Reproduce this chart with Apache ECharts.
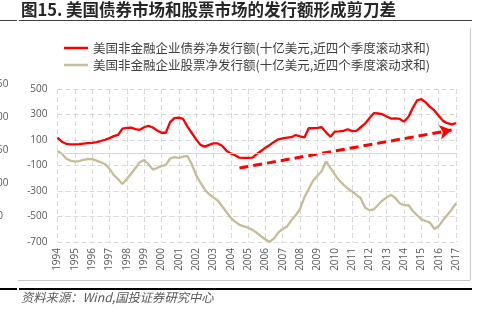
<!DOCTYPE html>
<html><head><meta charset="utf-8">
<script src="https://cdn.jsdelivr.net/npm/echarts@6/dist/echarts.min.js"></script>
<style>html,body{margin:0;padding:0;background:#fff}#c{width:486px;height:322px}</style>
</head><body><div id="c"></div>
<script>
const years = [1994,1995,1996,1997,1998,1999,2000,2001,2002,2003,2004,2005,2006,2007,2008,2009,2010,2011,2012,2013,2014,2015,2016,2017];
const quarters = ['Q1','Q2','Q3','Q4'];
const categories = [];
years.forEach(y => quarters.forEach(q => { if (!(y === 2017 && q !== 'Q1')) categories.push(y + q); }));

const bondName = '美国非金融企业债券净发行额(十亿美元,近四个季度滚动求和)';
const equityName = '美国非金融企业股票净发行额(十亿美元,近四个季度滚动求和)';

const bondValues = [118,87,70,66,65,67,72,76,78,84,92,102,115,130,140,190,195,197,185,180,
  200,212,198,175,157,157,240,272,275,265,205,155,105,62,48,62,74,73,55,15,
  -5,-20,-39,-40,-40,-38,-10,14,40,61,85,105,113,118,122,139,128,120,192,192,
  195,200,160,125,165,168,172,184,170,172,200,228,270,310,308,302,285,268,270,265,
  244,280,350,410,420,395,360,332,290,250,232,222,232];
const equityValues = [14,-8,-45,-62,-70,-66,-55,-49,-50,-62,-75,-90,-125,-175,-208,-245,-205,-165,-120,-75,
  -57,-90,-132,-120,-105,-95,-45,-35,-40,-30,-25,-90,-175,-235,-290,-325,-352,-375,-420,-465,
  -510,-540,-565,-578,-588,-605,-628,-655,-680,-698,-672,-625,-598,-578,-530,-490,-440,-350,-285,-220,
  -180,-143,-68,-118,-170,-215,-250,-280,-303,-330,-357,-430,-450,-445,-410,-375,-350,-330,-355,-396,
  -412,-410,-455,-490,-522,-535,-548,-598,-575,-530,-488,-445,-396];
const yTicks = {min: -700, max: 500, interval: 200};
const trendStart = [42, -120];
const trendEnd = [91, 178];
const sideLabels = ['50','00','50','00','0'];

const chart = echarts.init(document.getElementById('c'));
const sideY = [84,117,150,183.5,216];
const graphics = [
  {type:'text', left:21, top:1, style:{text:'图15. 美国债券市场和股票市场的发行额形成剪刀差', fontSize:16.5, fontWeight:'bold', fill:'#262626', fontFamily:'Noto Sans CJK SC'}},
  {type:'line', shape:{x1:0,y1:20.5,x2:17,y2:20.5}, style:{stroke:'#404040', lineWidth:1}},
  {type:'line', shape:{x1:19,y1:20.5,x2:472,y2:20.5}, style:{stroke:'#404040', lineWidth:1}},
  {type:'line', shape:{x1:470.5,y1:28,x2:470.5,y2:280}, style:{stroke:'#c8c8c8', lineWidth:1}},
  {type:'line', shape:{x1:18,y1:280.5,x2:470.5,y2:280.5}, style:{stroke:'#c8c8c8', lineWidth:1}},
  {type:'line', shape:{x1:0,y1:289,x2:17,y2:289}, style:{stroke:'#000', lineWidth:2}},
  {type:'line', shape:{x1:19,y1:289,x2:472,y2:289}, style:{stroke:'#000', lineWidth:2}},
  {type:'text', left:21, top:291, style:{text:'资料来源：Wind,国投证券研究中心', fontSize:12.3, fontStyle:'italic', fill:'#595959', fontFamily:'Noto Sans CJK SC'}}
];
sideLabels.forEach((t,i) => graphics.push({type:'text', x: i === 4 ? 3 : 8.5, y: sideY[i], style:{text:t, fontSize:10, fill:'#595959', fontFamily:'Open Sans', align:'right', verticalAlign:'middle'}}));

chart.setOption({
  animation:false,
  textStyle:{fontFamily:'Noto Sans CJK SC'},
  graphic: graphics,
  legend:{orient:'vertical', left:59, top:36, itemWidth:24, itemHeight:2.5, itemGap:3, icon:'rect',
    textStyle:{fontSize:12.5, color:'#404040', fontFamily:'Noto Sans CJK SC', padding:[0,0,0,0], lineHeight:14},
    data:[{name:bondName, icon:'rect'}, {name:equityName, icon:'rect'}]},
  grid:{left:57.5, right:30, top:89, bottom:80},
  xAxis:{type:'category', data:categories, boundaryGap:false,
    axisLine:{show:false, onZero:false}, axisTick:{show:false},
    axisLabel:{interval:3, rotate:90, margin:6, fontSize:10, color:'#595959', fontFamily:'Open Sans', formatter:v => v.slice(0,4)},
    splitLine:{show:true, interval:3, lineStyle:{type:[5,3], color:'#d9d9d9', width:1}}},
  yAxis:{type:'value', min:yTicks.min, max:yTicks.max, interval:yTicks.interval,
    axisLine:{show:false}, axisTick:{show:false},
    axisLabel:{fontSize:10, color:'#595959', fontFamily:'Open Sans', margin:10},
    splitLine:{show:true, lineStyle:{type:[5,3], color:'#d9d9d9', width:1}}},
  series:[
    {name:bondName, type:'line', data:bondValues, symbol:'none', smooth:false,
      lineStyle:{color:'#ff0000', width:2.3}, itemStyle:{color:'#ff0000'}, z:4,
      markLine:{silent:true, symbol:['none','arrow'], symbolSize:[11,12], label:{show:false},
        lineStyle:{color:'#ff0000', width:3, type:[9,5]},
        data:[[{coord:trendStart},{coord:trendEnd}]]}},
    {name:equityName, type:'line', data:equityValues, symbol:'none', smooth:false,
      lineStyle:{color:'#c4bd97', width:2.3}, itemStyle:{color:'#c4bd97'}, z:3,
      markLine:{silent:true, symbol:'none', label:{show:false},
        lineStyle:{color:'#d9d9d9', width:1, type:'solid'}, data:[{yAxis:0}]}}
  ]
});
</script></body></html>
